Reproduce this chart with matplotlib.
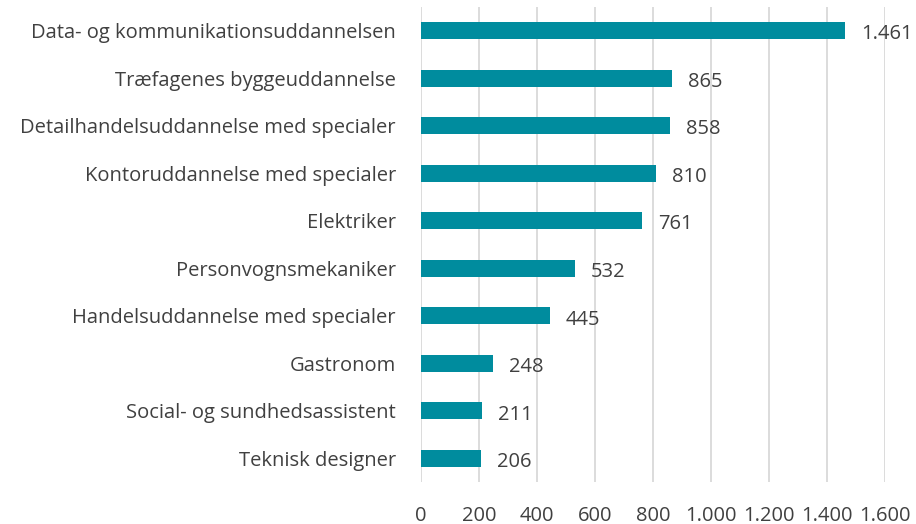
import numpy as np
import matplotlib.pyplot as plt

# data
uddannelser = [
    "Data- og kommunikationsuddannelsen",
    "Træfagenes byggeuddannelse",
    "Detailhandelsuddannelse med specialer",
    "Kontoruddannelse med specialer",
    "Elektriker",
    "Personvognsmekaniker",
    "Handelsuddannelse med specialer",
    "Gastronom",
    "Social- og sundhedsassistent",
    "Teknisk designer",
]
antal = [1461, 865, 858, 810, 761, 532, 445, 248, 211, 206]
xticks = [0, 200, 400, 600, 800, 1000, 1200, 1400, 1600]


def dk(v):
    return f"{v:,}".replace(",", ".")


plt.rcParams['font.family'] = ['Open Sans', 'DejaVu Sans']
tekst = '#404040'
fs = 14.5

fig = plt.figure(figsize=(9.16, 5.24), dpi=100)
ax = fig.add_axes([0.4596, 0.080, 0.5066, 0.907])

y = np.arange(len(uddannelser))
ax.barh(y, antal, height=0.36, color='#008C9E', zorder=3)
for yi, v in zip(y, antal):
    ax.text(v + 55, yi + 0.08, dk(v), va='center', ha='left',
            fontsize=fs, color=tekst)

ax.set_ylim(9.5, -0.5)
ax.set_xlim(0, 1600)
ax.set_xticks(xticks)
ax.set_xticklabels([dk(t) for t in xticks], fontsize=fs, color=tekst)
ax.set_yticks(y)
ax.set_yticklabels(uddannelser, fontsize=fs, color=tekst)
ax.tick_params(axis='both', length=0)
ax.tick_params(axis='x', pad=17)
ax.tick_params(axis='y', pad=18)
ax.grid(axis='x', color='#d9d9d9', linewidth=1.3, zorder=0)
for s in ax.spines.values():
    s.set_visible(False)

fig.savefig("out.png", dpi=100)
